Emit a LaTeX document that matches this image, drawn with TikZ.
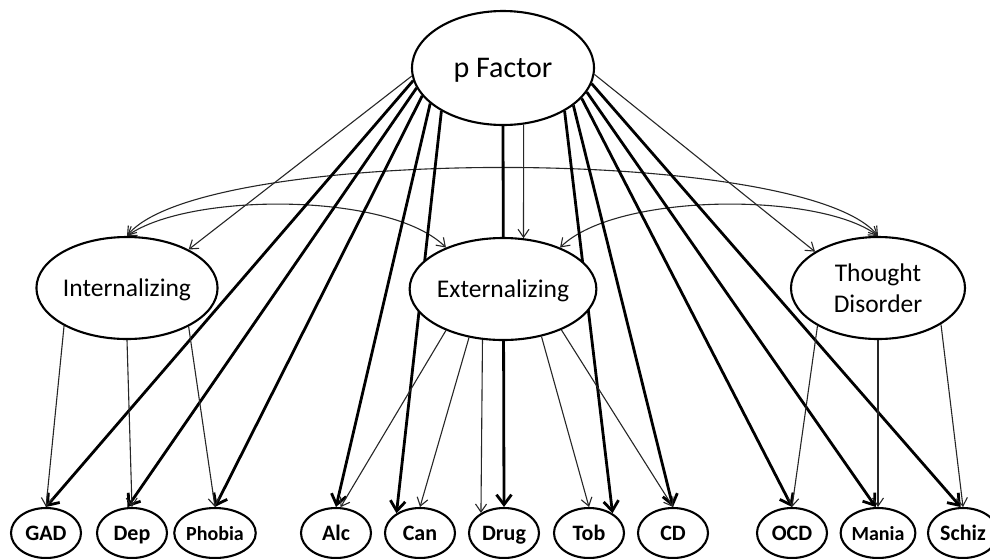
\documentclass[tikz,border=0pt]{standalone}
\usepackage{fontspec}
\setmainfont{Carlito}
\usetikzlibrary{arrows.meta,backgrounds,shapes.geometric}

\begin{document}
\begin{tikzpicture}[x=1pt,y=-1pt,
  latent/.style={ellipse, draw, line width=2.1pt, fill=white, inner sep=0pt,
    minimum width=164pt, minimum height=102pt, align=center,
    font=\fontsize{25.5}{31}\selectfont},
  obs/.style={ellipse, draw, line width=2.1pt, fill=white, inner sep=0pt,
    minimum width=70pt, minimum height=50pt, text height=15.5pt, text depth=1.2pt,
    font=\fontsize{22}{24}\selectfont\bfseries},
  smallobs/.style={obs, font=\fontsize{20}{22}\selectfont\bfseries},
  thinarrow/.style={line width=1.1pt, black!85, -{Straight Barb[length=8pt,width=11pt]}},
  thickarrow/.style={line width=2.8pt, black, -{Straight Barb[length=10pt,width=15pt]}},
  covarrow/.style={line width=1.1pt, black!85,
    {Straight Barb[length=8pt,width=11pt]}-{Straight Barb[length=8pt,width=11pt]}}]

\useasboundingbox (0,0) rectangle (990,558);

% general factor
\node[latent, minimum width=182pt, minimum height=114pt, text height=20pt, text depth=1.3pt,
  font=\fontsize{30}{34}\selectfont] (p) at (503,68) {p Factor};

% specific factors
\node[latent, text height=17pt, text depth=1pt] (int) at (127,288) {Internalizing};
\node[latent, text height=17pt, text depth=1pt] (ext) at (503,289) {Externalizing};
\node[latent, minimum width=174pt] (td) at (878,288) {Thought\\Disorder};

% observed disorders
\node[obs] (gad) at (46,533) {GAD};
\node[obs] (dep) at (132,533) {Dep};
\node[smallobs] (pho) at (215,533) {Phobia};
\node[obs] (alc) at (336,533) {Alc};
\node[obs] (can) at (420,533) {Can};
\node[obs] (drug) at (504,533) {Drug};
\node[obs] (tob) at (589,533) {Tob};
\node[obs] (cd) at (673,533) {CD};
\node[obs] (ocd) at (792,533) {OCD};
\node[smallobs] (man) at (878,533) {Mania};
\node[obs] (sch) at (963,533) {Schiz};

\begin{scope}[on background layer]
  % covariances among the specific factors
  \draw[covarrow] (int.north) .. controls (200,145) and (805,145) .. (td.north);
  \draw[covarrow] (int.north) .. controls (190,192) and (390,192) .. (ext.144);
  \draw[covarrow] (ext.36) .. controls (617,192) and (820,192) .. (td.north);

  % p factor to specific factors
  \draw[thinarrow] (p.185) -- (int.32);
  \draw[thinarrow] (p.290) -- (ext.68);
  \draw[thinarrow] (p.356) -- (td.150);

  % p factor to every disorder
  \draw[thickarrow] (p.188) -- (gad.north);
  \draw[thickarrow] (p.193) -- (dep.100);
  \draw[thickarrow] (p.199) -- (pho.north);
  \draw[thickarrow] (p.206) -- (alc.north);
  \draw[thickarrow] (p.215) -- (can.140);
  \draw[thickarrow] (p.270) -- (drug.north);
  \draw[thickarrow] (p.325) -- (tob.40);
  \draw[thickarrow] (p.332) -- (cd.north);
  \draw[thickarrow] (p.339) -- (ocd.north);
  \draw[thickarrow] (p.344) -- (man.95);
  \draw[thickarrow] (p.350) -- (sch.95);

  % specific factors to their disorders
  \draw[thinarrow] (int.211) -- (gad.north);
  \draw[thinarrow] (int.south) -- (dep.north);
  \draw[thinarrow] (int.328) -- (pho.north);

  \draw[thinarrow] (ext.216) -- (alc.80);
  \draw[thinarrow] (ext.235) -- (can.north);
  \draw[thinarrow] (ext.248) -- (drug.139);
  \draw[thinarrow] (ext.309) -- (tob.north);
  \draw[thinarrow] (ext.325) -- (cd.north);

  \draw[thinarrow] (td.212) -- (ocd.north);
  \draw[thinarrow] (td.south) -- (man.north);
  \draw[thinarrow] (td.330) -- (sch.north);
\end{scope}
\end{tikzpicture}
\end{document}
